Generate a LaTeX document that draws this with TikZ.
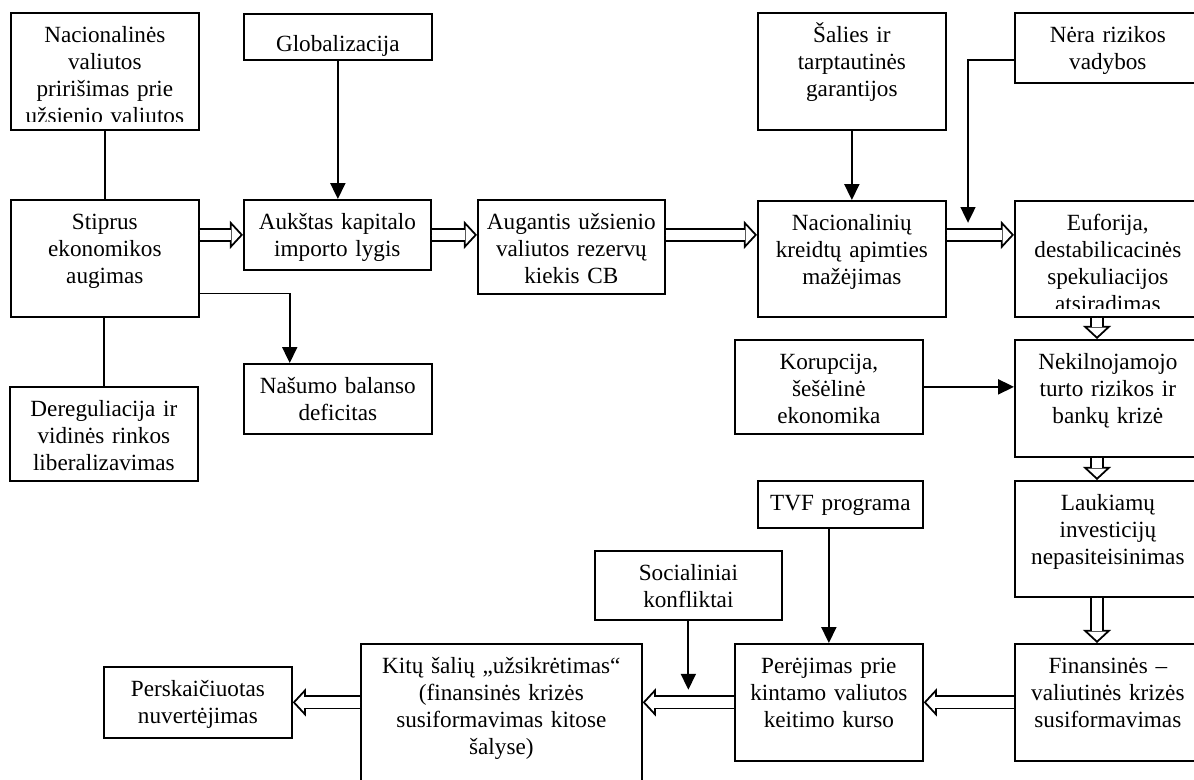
\documentclass[tikz,border=0pt]{standalone}
\usepackage{fontspec}
\setmainfont{Liberation Serif}
\usetikzlibrary{positioning,arrows.meta,calc}

\begin{document}
\begin{tikzpicture}[x=0.02cm, y=-0.02cm,
	font=\fontsize{13.2pt}{15.3pt}\selectfont,
	box/.style 2 args={draw, line width=1pt, anchor=north west, align=center,
		inner sep=0pt, text height=0.6cm, text width=#1, text depth=#2},
	arr/.style={line width=1pt, -{Triangle[length=9pt, width=8.5pt]}},
	fat/.style={draw=white, line width=0.4pt,
		-{Triangle[open, length=7.5pt, width=16pt, color=black, line width=1pt]},
		postaction={draw=black, -, double=white, double distance=6pt,
			line width=1pt, shorten >=6.6pt}}
	]
	\clip (0,0) rectangle (1194,780);
	% top row
	\node[box={3.76cm}{1.74cm}] (nac) at (10,12) {Nacionalinės\\ valiutos\\ pririšimas prie\\ užsienio valiutos};
	\node[box={3.76cm}{0.16cm}, text height=0.76cm] (glob) at (243,13) {Globalizacija};
	\node[box={3.76cm}{1.74cm}] (sal) at (757,12) {Šalies ir\\ tarptautinės\\ garantijos};
	\node[box={3.72cm}{0.8cm}] (nera) at (1014,12) {Nėra rizikos\\ vadybos};
	% main row
	\node[box={3.76cm}{1.74cm}] (stip) at (10,199) {Stiprus\\ ekonomikos\\ augimas};
	\node[box={3.74cm}{0.8cm}] (auk) at (243,199) {Aukštas kapitalo\\ importo lygis};
	\node[box={3.74cm}{1.28cm}] (aug) at (477,199) {Augantis užsienio\\ valiutos rezervų\\ kiekis CB};
	\node[box={3.76cm}{1.72cm}] (nkr) at (757,200) {Nacionalinių\\ kreidtų apimties\\ mažėjimas};
	\node[box={3.72cm}{1.72cm}] (euf) at (1014,200) {Euforija,\\ destabilicacinės\\ spekuliacijos\\ atsiradimas};
	% middle
	\node[box={3.76cm}{0.8cm}] (nas) at (243,363) {Našumo balanso\\ deficitas};
	\node[box={3.76cm}{1.28cm}] (der) at (9,386) {Dereguliacija ir\\ vidinės rinkos\\ liberalizavimas};
	\node[box={3.76cm}{1.28cm}] (kor) at (734,339) {Korupcija,\\ šešėlinė\\ ekonomika};
	\node[box={3.72cm}{1.74cm}] (nek) at (1014,339) {Nekilnojamojo\\ turto rizikos ir\\ bankų krizė};
	\node[box={3.3cm}{0.34cm}] (tvf) at (757,480) {TVF programa};
	\node[box={3.72cm}{1.72cm}] (lau) at (1014,480) {Laukiamų\\ investicijų\\ nepasiteisinimas};
	\node[box={3.74cm}{0.78cm}] (soc) at (594,550) {Socialiniai\\ konfliktai};
	% bottom row
	\node[box={3.76cm}{0.82cm}] (pers) at (103,666) {Perskaičiuotas\\ nuvertėjimas};
	\node[box={5.62cm}{2.34cm}] (kit) at (360,643) {Kitų šalių „užsikrėtimas“\\ (finansinės krizės\\ susiformavimas kitose\\ šalyse)};
	\node[box={3.76cm}{1.74cm}] (pere) at (734,643) {Perėjimas prie\\ kintamo valiutos\\ keitimo kurso};
	\node[box={3.72cm}{1.74cm}] (fin) at (1014,643) {Finansinės –\\ valiutinės krizės\\ susiformavimas};
	% cut-off last lines
	\fill[white] ($(nac.south west)+(2,-9)$) rectangle ($(nac.south east)+(-2,-2)$);
	\fill[white] ($(euf.south west)+(2,-9)$) rectangle ($(euf.south east)+(-2,-2)$);
	% connectors
	\draw[line width=1pt] (nac) -- (stip);
	\draw[line width=1pt] (der.north) -- (der.north |- stip.south);
	\draw[arr] (glob) -- (glob |- auk.north);
	\draw[arr] ([yshift=-20pt]stip.east) -| ([xshift=26.6pt]nas.north west);
	\draw[fat] (stip.east |- auk) -- (auk.west);
	\draw[fat] (auk.east) -- (aug.west |- auk);
	\draw[fat] (aug.east |- auk) -- (nkr.west |- auk);
	\draw[fat] (nkr.east |- auk) -- (euf.west |- auk);
	\draw[arr] (sal) -- (nkr);
	\draw[arr] ([yshift=-6.8pt]nera.west) -| ++(-46,163);
	\coordinate (rc) at (1097,0);
	\draw[fat] (euf.south -| rc) -- (nek.north -| rc);
	\draw[arr] (kor) -- (nek.west |- kor);
	\draw[fat] (nek.south -| rc) -- (lau.north -| rc);
	\draw[fat] (lau.south -| rc) -- (fin.north -| rc);
	\draw[arr] (tvf.south -| pere) -- (pere.north);
	\draw[fat] (fin.west |- pere) -- (pere.east);
	\draw[arr] (soc.south) -- ++(0,69);
	\draw[fat] (pere.west) -- (kit.east |- pere);
	\draw[fat] (kit.west |- pers) -- (pers.east);
\end{tikzpicture}
\end{document}
